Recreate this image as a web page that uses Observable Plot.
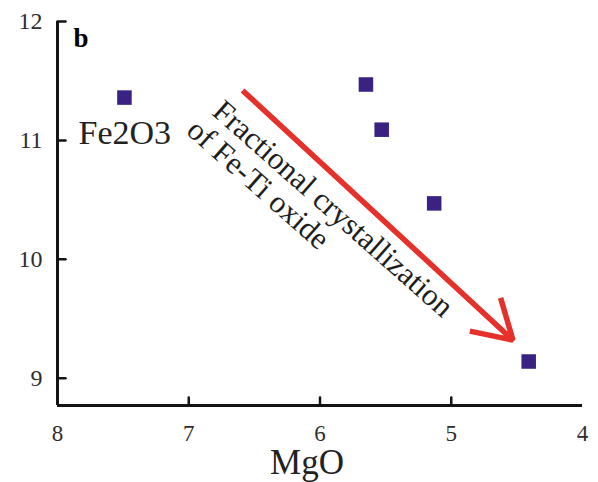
<!DOCTYPE html>
<html>
<head>
<meta charset="utf-8">
<script src="https://cdn.jsdelivr.net/npm/d3@7"></script>
<script src="https://cdn.jsdelivr.net/npm/@observablehq/plot@0.6"></script>
<style>
  html, body { margin: 0; padding: 0; background: #fff; }
</style>
</head>
<body>
<div id="chart"></div>
<script>
// Data
const mgo   = [7.49, 5.65, 5.53, 5.13, 4.41];
const fe2o3 = [11.36, 11.47, 11.09, 10.47, 9.14];

// Axes
const xDomain = [8, 4];
const yDomain = [8.77, 12];
const xTickLabels = [8, 7, 6, 5, 4];
const xTickMarks = [7, 6, 5];
const yTickLabels = [9, 10, 11, 12];

// Annotation: fractional-crystallization trend arrow (data coords)
const arrowFrom = [6.59, 11.42];
const arrowTo = [4.53, 9.32];
const trendLines = ["Fractional crystallization", "of Fe-Ti oxide"];
const trendX = [5.90, 6.47];
const trendY = [10.425, 10.63];

const points = mgo.map((x, i) => ({x, y: fe2o3[i]}));
const trend = trendLines.map((t, i) => ({t, x: trendX[i], y: trendY[i]}));

const serif = "Liberation Serif, Times New Roman, Times, serif";
const ink = "#141414";
const tickShape = {draw(context, l) { context.moveTo(0, 0); context.lineTo(0, -l); }};

const chart = Plot.plot({
  width: 598,
  height: 482,
  marginLeft: 57,
  marginRight: 16,
  marginTop: 21,
  marginBottom: 77,
  style: {fontFamily: serif, background: "#fff", color: ink},
  x: {domain: xDomain, axis: null},
  y: {domain: yDomain, axis: null},
  marks: [
    // axis frame lines
    Plot.ruleX([xDomain[0]], {stroke: ink, strokeWidth: 3}),
    Plot.ruleY([yDomain[0]], {stroke: ink, strokeWidth: 3}),
    // inward ticks
    Plot.vector(xTickMarks, {x: d => d, y: yDomain[0], length: 8, rotate: 0, anchor: "start", shape: tickShape, stroke: ink, strokeWidth: 2.5}),
    Plot.vector(yTickLabels, {x: xDomain[0], y: d => d, length: 8, rotate: 90, anchor: "start", shape: tickShape, stroke: ink, strokeWidth: 2.5}),
    // tick labels
    Plot.text(xTickLabels, {x: d => d, text: d => String(d), frameAnchor: "bottom", dy: 19, lineAnchor: "top", fontSize: 23, fontFamily: serif, fill: "#2e2e2e"}),
    Plot.text(yTickLabels, {y: d => d, text: d => String(d), frameAnchor: "left", dx: -15, textAnchor: "end", fontSize: 24, fontFamily: serif, fill: "#2e2e2e"}),
    // axis title
    Plot.text(["MgO"], {frameAnchor: "bottom", dx: -13, dy: 44, lineAnchor: "top", fontSize: 35, fontFamily: serif, fill: "#222"}),
    // panel letter and variable label
    Plot.text(["b"], {frameAnchor: "top-left", dx: 16, dy: 6, textAnchor: "start", lineAnchor: "top", fontSize: 27, fontWeight: "bold", fontFamily: serif, fill: "#000"}),
    Plot.text(["Fe2O3"], {frameAnchor: "top-left", dx: 21, dy: 98, textAnchor: "start", lineAnchor: "top", fontSize: 34, fontFamily: serif, fill: "#222"}),
    // trend arrow
    Plot.arrow([{x1: arrowFrom[0], y1: arrowFrom[1], x2: arrowTo[0], y2: arrowTo[1]}], {
      x1: "x1", y1: "y1", x2: "x2", y2: "y2",
      stroke: "#e6302a", strokeWidth: 5.5, headAngle: 62, headLength: 12, strokeLinecap: "butt"
    }),
    Plot.text(trend, {x: "x", y: "y", text: "t", rotate: 41.5, fontSize: 31, fontFamily: serif, fill: "#1e1e1e"}),
    // samples
    Plot.dot(points, {x: "x", y: "y", symbol: "square", r: 8.2, fill: "#3a2283", stroke: "none"})
  ]
});
document.getElementById("chart").appendChild(chart);
</script>
</body>
</html>
